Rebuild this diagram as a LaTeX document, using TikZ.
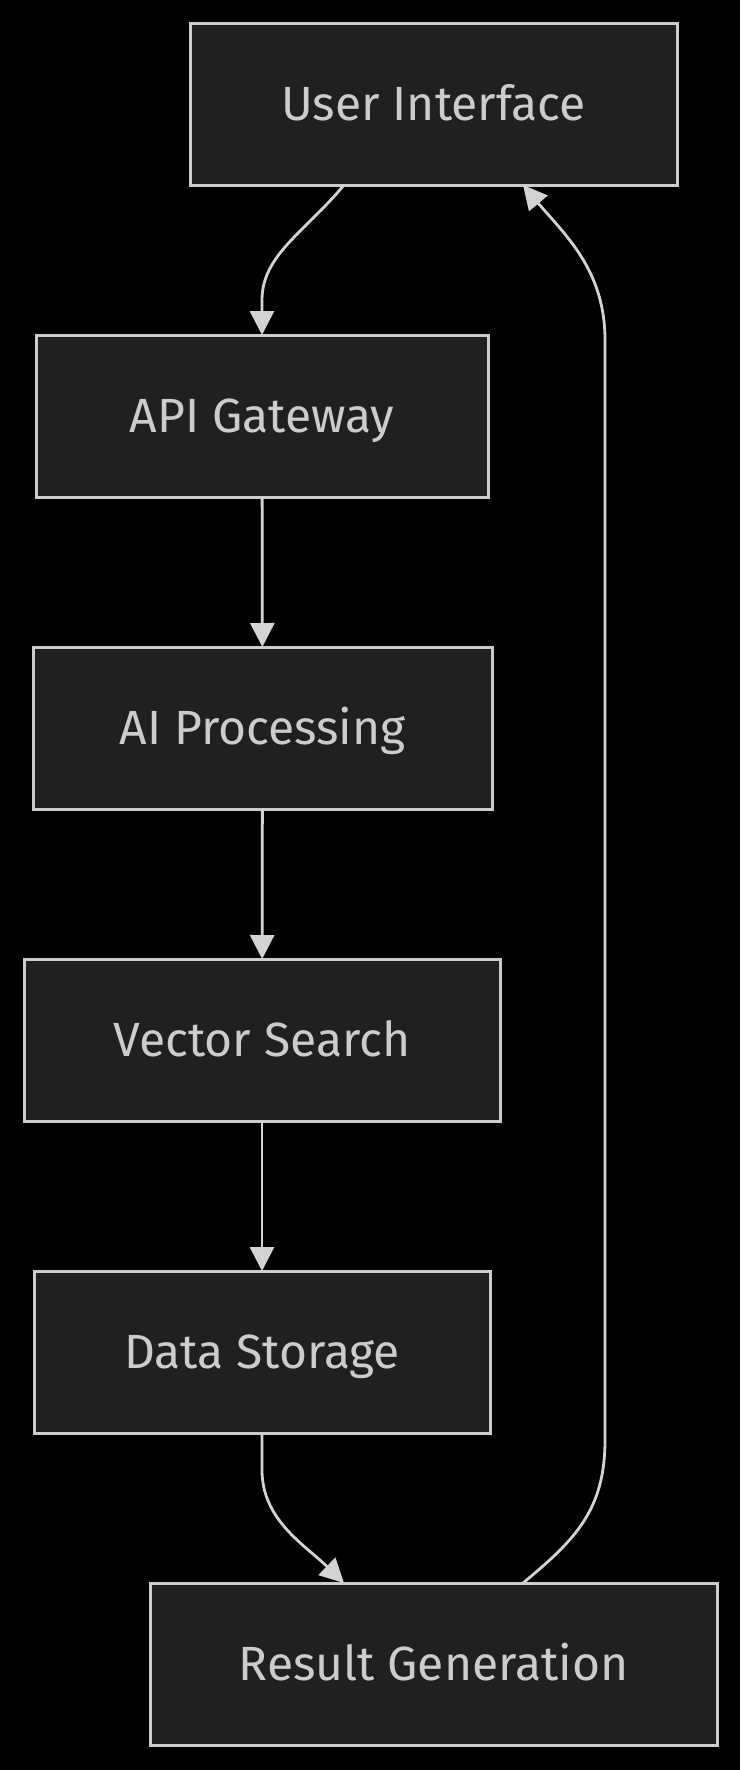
\documentclass[tikz,border=0pt]{standalone}
\usepackage{fontspec}
\setmainfont{Fira Sans}
\usetikzlibrary{arrows.meta}
\definecolor{nodefill}{HTML}{1F2020}
\definecolor{nodeline}{HTML}{CCCCCC}
\definecolor{edgeline}{HTML}{D3D3D3}

\begin{document}
\begin{tikzpicture}[x=1pt, y=-1pt,
        box/.style={draw=nodeline, fill=nodefill, line width=3pt, minimum height=162pt, inner sep=0pt, outer sep=0pt, text height=33pt, text depth=0pt, text=nodeline, font=\fontsize{48}{58}\selectfont},
        flow/.style={draw=edgeline, line width=2.8pt, -{Triangle[length=24pt, width=24pt]}}]
        \fill [black] (0, 0) rectangle (740, 1770);
        \useasboundingbox (0, 0) rectangle (740, 1770);
        \node [box, minimum width=487pt] (ui) at (433.5, 104) {User Interface};
        \node [box, minimum width=452pt] (api) at (262, 416) {API Gateway};
        \node [box, minimum width=459pt] (ai) at (262.5, 728) {AI Processing};
        \node [box, minimum width=476pt] (vec) at (262, 1040) {Vector Search};
        \node [box, minimum width=456pt] (data) at (262, 1352) {Data Storage};
        \node [box, minimum width=567pt] (res) at (433.5, 1664) {Result Generation};
        \draw [flow] ([xshift=-89.5pt] ui.south) .. controls (305, 232) and (262, 255) .. (262, 300) -- (api.north);
        \draw [flow] (api) -- (ai);
        \draw [flow] (ai) -- (vec);
        \draw [flow] (vec) -- (data);
        \draw [flow] (data.south) -- (262, 1470) .. controls (262, 1520) and (305, 1545) .. ([xshift=-89.5pt] res.north);
        \draw [flow] ([xshift=89.5pt] res.north) .. controls (575, 1540) and (605, 1510) .. (605, 1440) -- (605, 340) .. controls (605, 270) and (565, 235) .. ([xshift=89.5pt] ui.south);
    \end{tikzpicture}
\end{document}
